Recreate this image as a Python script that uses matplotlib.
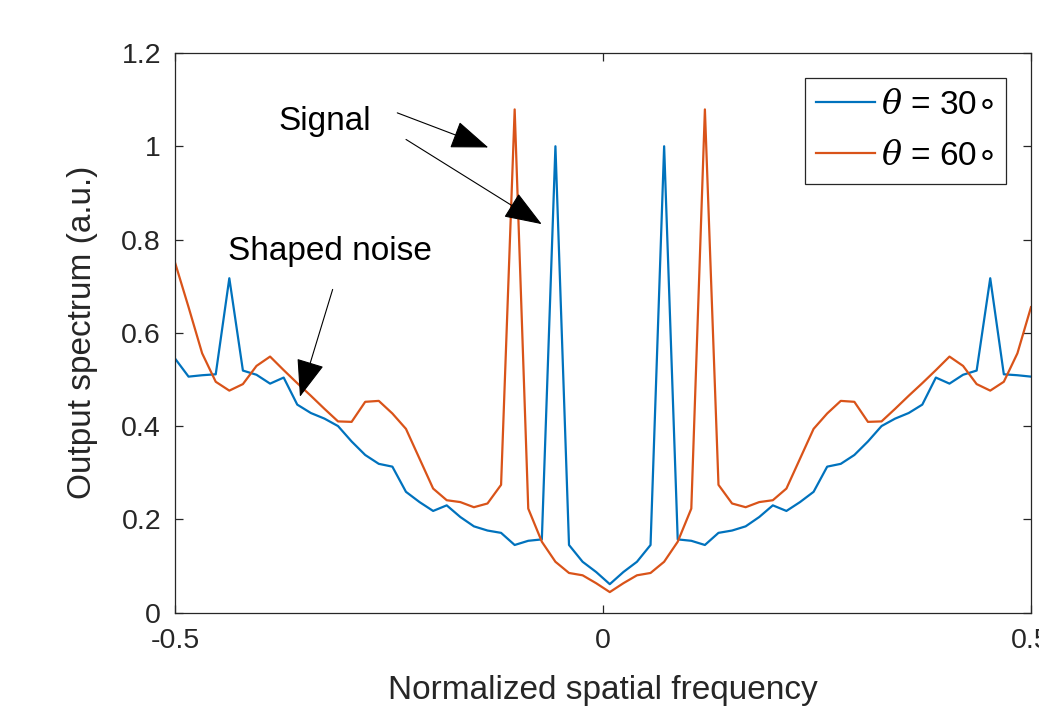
import numpy as np
import matplotlib
matplotlib.use("Agg")
import matplotlib.pyplot as plt
from matplotlib.ticker import FormatStrFormatter

plt.rcParams['font.family'] = ['Liberation Sans', 'DejaVu Sans']
plt.rcParams['mathtext.fontset'] = 'custom'
plt.rcParams['mathtext.rm'] = 'DejaVu Sans'
plt.rcParams['mathtext.it'] = 'DejaVu Serif:italic'
plt.rcParams['axes.unicode_minus'] = False

# normalized spatial frequency grid (64 samples from -0.5 to 0.5)
freq = np.linspace(-0.5, 0.5, 64)

# output spectrum, theta = 30 deg
spec_30 = [0.545, 0.506, 0.509, 0.511, 0.717, 0.519, 0.510, 0.491, 0.504, 0.446,
           0.428, 0.416, 0.400, 0.367, 0.338, 0.319, 0.313, 0.259, 0.237, 0.218,
           0.230, 0.205, 0.185, 0.176, 0.171, 0.145, 0.154, 0.157, 1.000, 0.145,
           0.109, 0.087, 0.061, 0.087, 0.109, 0.145, 1.000, 0.157, 0.154, 0.145,
           0.171, 0.176, 0.185, 0.205, 0.230, 0.218, 0.237, 0.259, 0.313, 0.319,
           0.338, 0.367, 0.400, 0.416, 0.428, 0.446, 0.504, 0.491, 0.510, 0.519,
           0.717, 0.511, 0.509, 0.506]

# output spectrum, theta = 60 deg
spec_60 = [0.751, 0.655, 0.556, 0.495, 0.476, 0.490, 0.529, 0.549, 0.520, 0.492,
           0.465, 0.437, 0.410, 0.409, 0.452, 0.454, 0.427, 0.394, 0.330, 0.266,
           0.241, 0.237, 0.226, 0.234, 0.274, 1.079, 0.223, 0.152, 0.109, 0.085,
           0.080, 0.063, 0.044, 0.063, 0.080, 0.085, 0.109, 0.152, 0.223, 1.079,
           0.274, 0.234, 0.226, 0.237, 0.241, 0.266, 0.330, 0.394, 0.427, 0.454,
           0.452, 0.409, 0.410, 0.437, 0.465, 0.492, 0.520, 0.549, 0.529, 0.490,
           0.476, 0.495, 0.556, 0.655]

labels = [r'$\theta$ = 30$\circ$', r'$\theta$ = 60$\circ$']
colors = ['#0072BD', '#D95319']
axcol = '#262626'

fig = plt.figure(figsize=(10.39, 7.14), dpi=100)
ax = fig.add_axes([0.1684, 0.142, 0.8239, 0.7838])

ax.plot(freq, spec_30, color=colors[0], lw=1.6, label=labels[0])
ax.plot(freq, spec_60, color=colors[1], lw=1.6, label=labels[1])

ax.set_xlim(-0.5, 0.5)
ax.set_ylim(0, 1.2)
ax.set_xticks([-0.5, 0, 0.5])
ax.set_yticks([0, 0.2, 0.4, 0.6, 0.8, 1.0, 1.2])
ax.xaxis.set_major_formatter(FormatStrFormatter('%g'))
ax.yaxis.set_major_formatter(FormatStrFormatter('%g'))

ax.tick_params(direction='in', length=6, width=0.9, colors=axcol,
               labelsize=20.5, top=True, right=True)
ax.tick_params(axis='y', pad=10)
ax.tick_params(axis='x', pad=11)
for s in ax.spines.values():
    s.set_color(axcol)
    s.set_linewidth(0.9)

ax.set_xlabel('Normalized spatial frequency', fontsize=24, color=axcol, labelpad=15)
ax.set_ylabel('Output spectrum (a.u.)', fontsize=24, color=axcol, labelpad=17)

# legend
leg = ax.legend(loc='upper right', bbox_to_anchor=(0.9705, 0.9548), borderaxespad=0,
                fontsize=24, handlelength=1.75, handletextpad=0.2,
                labelspacing=0.6, borderpad=0.35, fancybox=False, framealpha=1)
leg.get_frame().set_edgecolor(axcol)
leg.get_frame().set_linewidth(0.9)

# annotations
aprops = dict(arrowstyle='-|>,head_length=1.2,head_width=0.45', mutation_scale=20,
              lw=0.8, color='k', shrinkA=0, shrinkB=0)
ax.text(-0.3793, 1.0345, 'Signal', fontsize=24, color='k')
ax.annotate('', xy=(-0.134, 0.9974), xytext=(-0.2403, 1.0716), arrowprops=aprops)
ax.annotate('', xy=(-0.0716, 0.833), xytext=(-0.2301, 1.0146), arrowprops=aprops)
ax.text(-0.4377, 0.7558, 'Shaped noise', fontsize=24, color='k')
ax.annotate('', xy=(-0.354, 0.4628), xytext=(-0.3158, 0.693), arrowprops=aprops)

plt.savefig('out.png', dpi=100)
